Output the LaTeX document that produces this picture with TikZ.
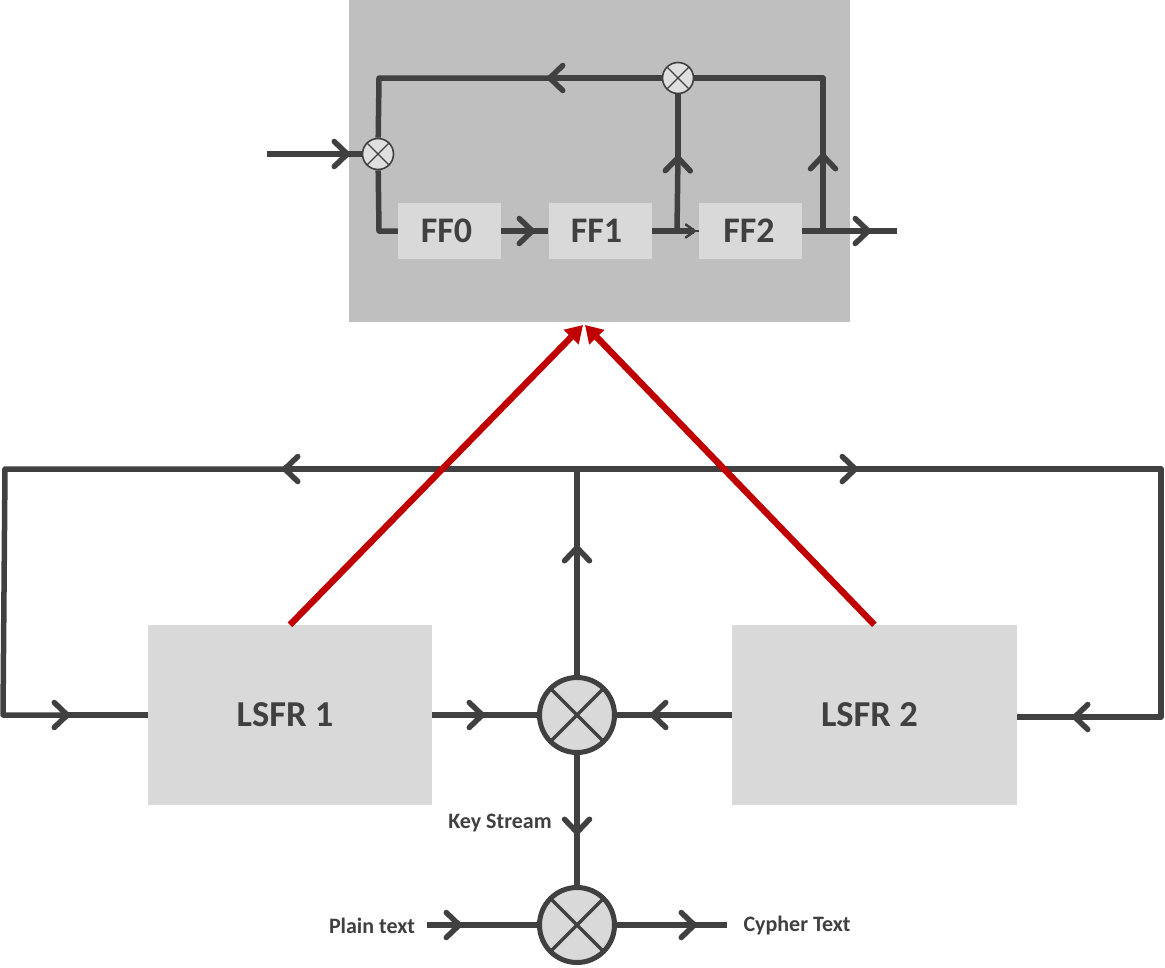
\documentclass[tikz,border=0pt]{standalone}
\usepackage{fontspec}
\setmainfont{Carlito}
\usetikzlibrary{arrows.meta,positioning}
\definecolor{wirecol}{HTML}{404040}
\definecolor{boxcol}{HTML}{D9D9D9}
\definecolor{panelcol}{HTML}{BFBFBF}
\definecolor{redcol}{HTML}{C00000}
\tikzset{
    wire/.style={draw=wirecol, line width=5.5pt, line join=round},
    chev/.style={-{Straight Barb[length=13pt,width=25pt,line width=5.5pt,round]}},
    chevsmall/.style={-{Straight Barb[length=9pt,width=13pt,line width=2.5pt,round]}},
    cont/.style={shorten <=-8pt},
    redline/.style={draw=redcol, line width=6.5pt, -{Triangle[length=17pt,width=20pt]}},
    ffbox/.style={fill=boxcol, text=wirecol, minimum width=103pt, minimum height=56pt, inner sep=0pt, font=\fontsize{36}{36}\selectfont\bfseries},
    lsfrbox/.style={fill=boxcol, text=wirecol, minimum width=284.5pt, minimum height=180pt, inner sep=0pt, font=\fontsize{36.5}{36.5}\selectfont\bfseries},
    xorsmall/.style={circle, draw=wirecol, fill=boxcol!85!white, line width=1.6pt, minimum size=31pt, inner sep=0pt,
        path picture={\draw[wirecol, line width=1.2pt] (path picture bounding box.north west) -- (path picture bounding box.south east)
            (path picture bounding box.north east) -- (path picture bounding box.south west);}},
    xorbig/.style={circle, draw=wirecol, fill=boxcol, line width=5pt, minimum size=75pt, inner sep=0pt,
        path picture={\draw[wirecol, line width=3.5pt] (path picture bounding box.north west) -- (path picture bounding box.south east)
            (path picture bounding box.north east) -- (path picture bounding box.south west);}},
    lbl/.style={text=wirecol, inner sep=0pt, font=\fontsize{22}{22}\selectfont\bfseries},
}
\begin{document}
\begin{tikzpicture}[x=1pt,y=-1pt,node distance=150.5pt]
    \useasboundingbox (0,0) rectangle (1165,967);

    % upper register
    \node [fill=panelcol, minimum width=501pt, minimum height=322pt, inner sep=0pt](panel) at (599.5,161){};
    \node [ffbox](ff0) at (449.5,231){\raisebox{-4pt}{FF0}\hspace*{6pt}};
    \node [ffbox](ff1) [right of = ff0]{FF1\hspace*{7pt}};
    \node [ffbox](ff2) [right of = ff1]{FF2\hspace*{3pt}};
    \node [xorsmall](xora) at (378,154){};
    \node [xorsmall](xorb) at (678,78){};

    \coordinate (in) at (267,154);
    \coordinate (intip) at (350,154);
    \coordinate (topleft) at (379,78);
    \coordinate (topright) at (823,78);
    \coordinate (toptip) at (547,78);
    \coordinate (lowleft) at (379,231);
    \coordinate (ffatip) at (535,231);
    \coordinate (ffbtip) at (696,231);
    \coordinate (tapa) at (677,231);
    \coordinate (tapatip) at (678,155);
    \coordinate (tapb) at (823,231);
    \coordinate (tapbtip) at (823,153);
    \coordinate (outtip) at (871,231);
    \coordinate (out) at (897,231);

    \draw[wire] (ff0.west) -- (lowleft) -- (xora);
    \draw[wire, cont] (toptip) -- (topleft) -- (xora);
    \draw[wire, cont] (tapbtip) -- (topright) -- (xorb);
    \path[wire]
        (in) edge[chev] (intip)
        (intip) edge[cont] (xora)
        (xorb) edge[chev] (toptip)
        (tapb) edge[chev] (tapbtip)
        (tapa) edge[chev] (tapatip)
        (tapatip) edge[cont] (xorb)
        (ff0.east) edge[chev] (ffatip)
        (ffatip) edge[cont] (ff1.west)
        (ff1.east) edge[chevsmall] (ffbtip)
        (ffbtip) edge[line width=2.5pt, shorten <=-3pt] (ff2.west)
        (ff2.east) edge[chev] (outtip)
        (outtip) edge[cont] (out)
    ;

    % lower part
    \node [lsfrbox](lsfr1) at (290,715){LSFR 1\hspace*{10pt}};
    \node [lsfrbox](lsfr2) [right=299.5pt of lsfr1]{LSFR 2\hspace*{10pt}};
    \node [xorbig](xorc) at (577,715){};
    \node [xorbig](xord) at (577,925){};
    \node [lbl](plain) at (372,926){Plain text};
    \node [lbl](cypher) at (797,925){Cypher Text};
    \node [lbl](keystream) at (500,823.5){Key Stream};

    \coordinate (busleft) at (5,469);
    \coordinate (busmid) at (577,469);
    \coordinate (busright) at (1161,469);
    \coordinate (lefttip) at (282,469);
    \coordinate (righttip) at (858,469);
    \coordinate (inleft) at (3,715);
    \coordinate (inlefttip) at (70,715);
    \coordinate (inright) at (1161,717);
    \coordinate (inrighttip) at (1072,717);
    \coordinate (lsfratip) at (485,715);
    \coordinate (lsfrbtip) at (650,715);
    \coordinate (uptip) at (577,545);
    \coordinate (downtip) at (577,835);
    \coordinate (plainend) at (427,925);
    \coordinate (plaintip) at (462,925);
    \coordinate (cypherend) at (727,925);
    \coordinate (cyphertip) at (697,925);

    \draw[wire, cont, chev] (lefttip) -- (busleft) -- (inleft) -- (inlefttip);
    \draw[wire, cont, chev] (righttip) -- (busright) -- (inright) -- (inrighttip);
    \path[wire]
        (busmid) edge[chev] (lefttip)
        (busmid) edge[chev] (righttip)
        (inlefttip) edge[cont] (lsfr1)
        (inrighttip) edge[cont] (lsfr2.east |- inrighttip)
        (lsfr1) edge[chev] (lsfratip)
        (lsfratip) edge[cont] (xorc)
        (lsfr2) edge[chev] (lsfrbtip)
        (lsfrbtip) edge[cont] (xorc)
        (xorc) edge[chev] (uptip)
        (uptip) edge[cont] (busmid)
        (xorc) edge[chev] (downtip)
        (downtip) edge[cont] (xord)
        (plainend) edge[chev] (plaintip)
        (plaintip) edge[cont] (xord)
        (xord) edge[chev] (cyphertip)
        (cyphertip) edge[cont] (cypherend)
    ;

    % red arrows to the upper register
    \coordinate (apexa) at (583,325);
    \coordinate (apexb) at (585,325);
    \draw[redline] (lsfr1.north) -- (apexa);
    \draw[redline] (lsfr2.north) -- (apexb);
\end{tikzpicture}
\end{document}
